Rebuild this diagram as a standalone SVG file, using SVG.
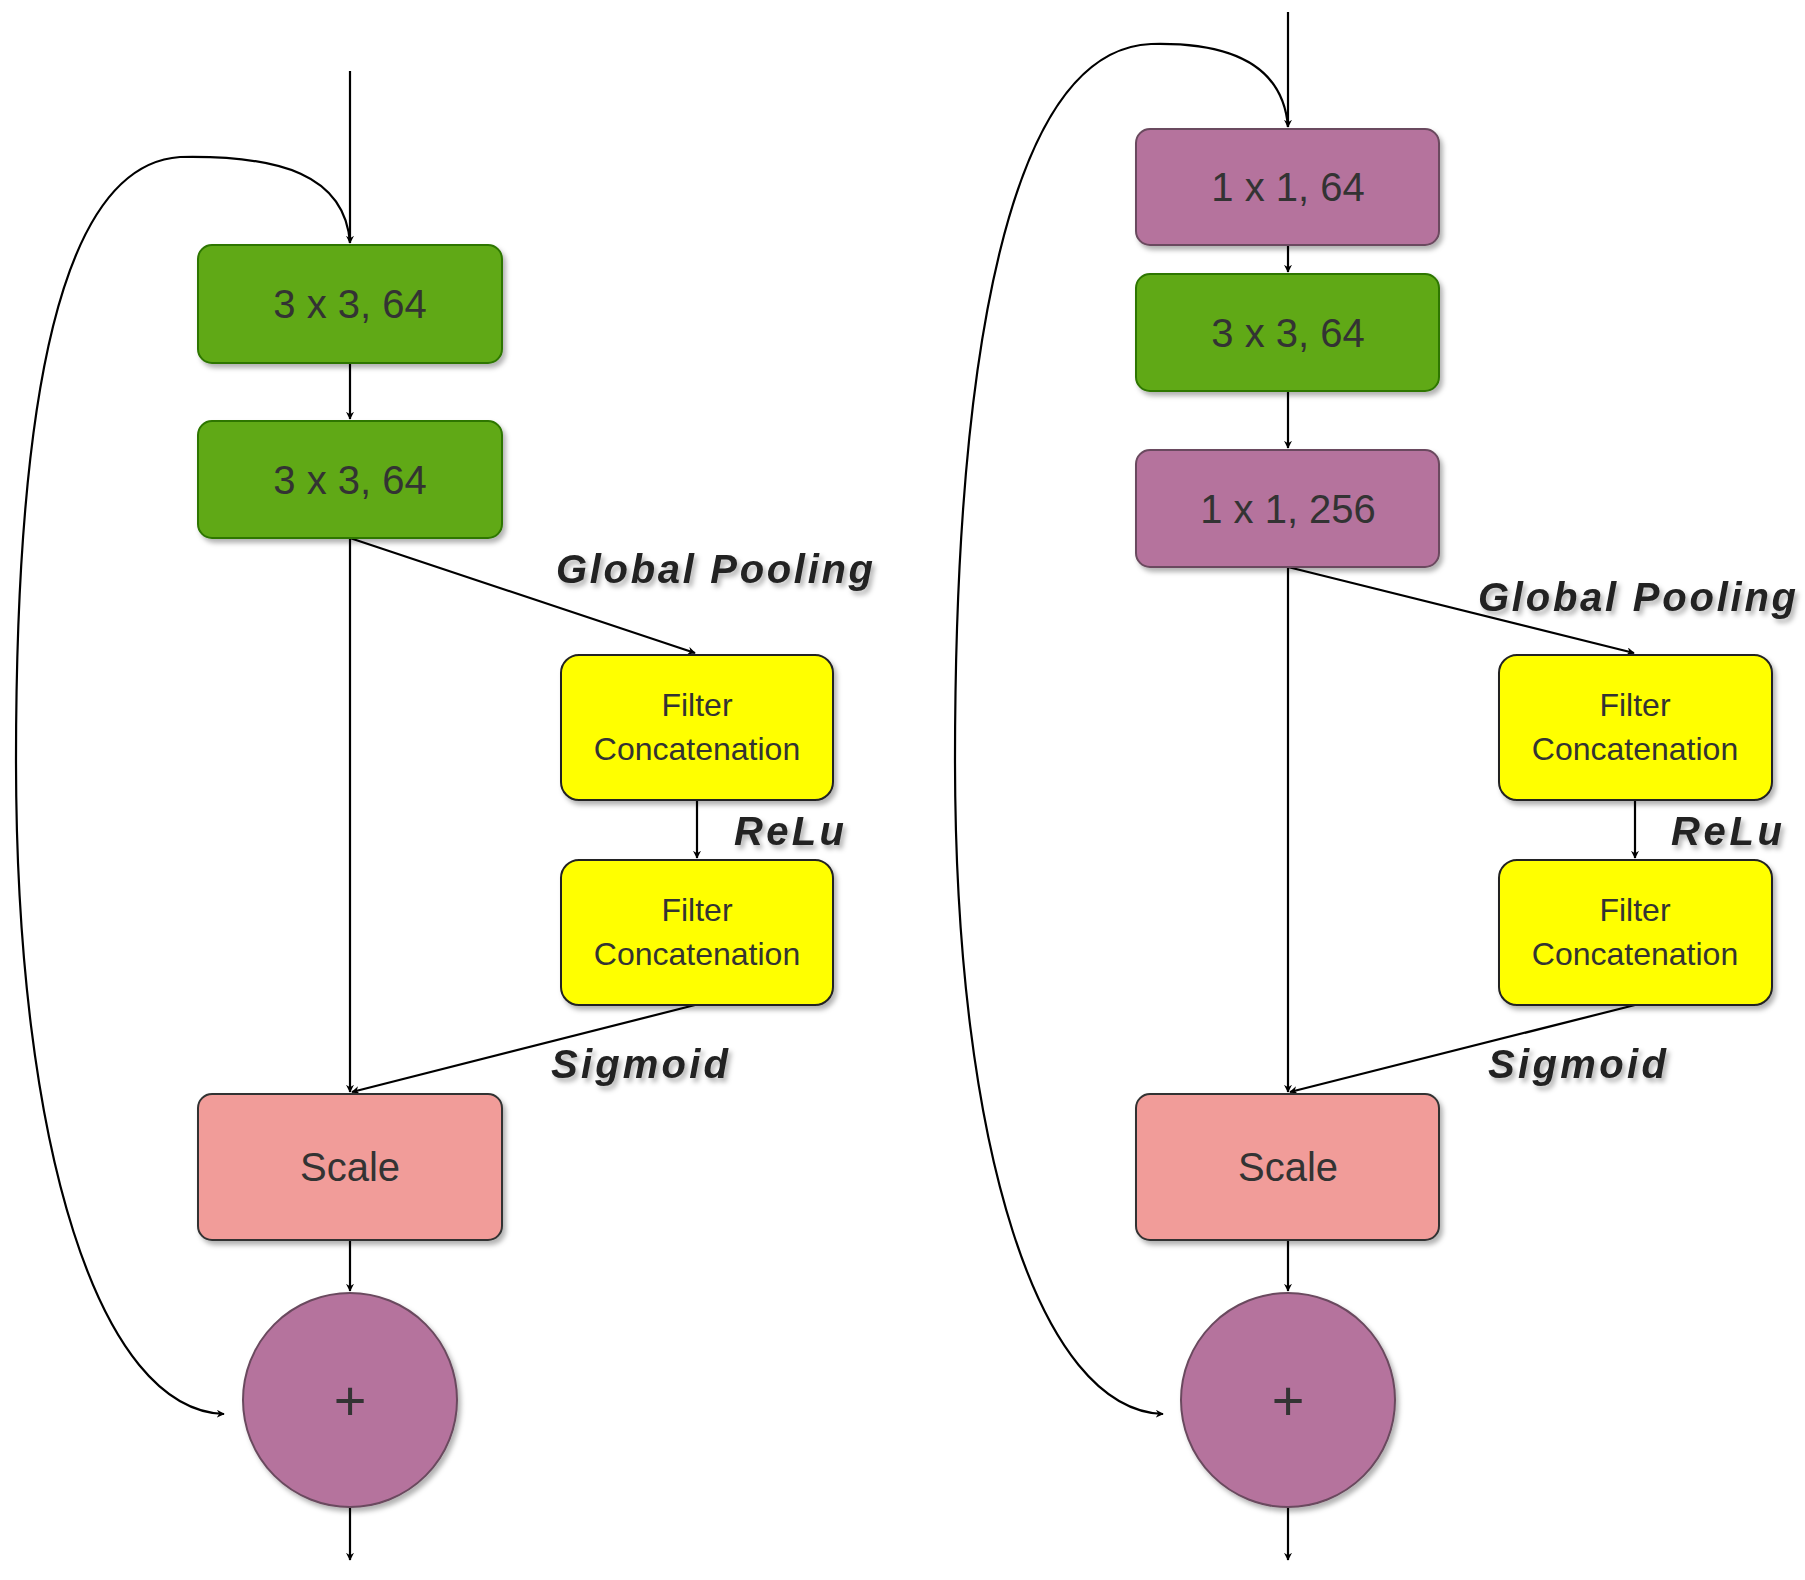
<svg xmlns="http://www.w3.org/2000/svg" width="1805" height="1580" viewBox="0 0 1805 1580">
<defs>
<marker id="ah" viewBox="0 0 10 10" refX="9" refY="5" markerWidth="8" markerHeight="8" markerUnits="userSpaceOnUse" orient="auto"><path d="M0,0 L10,5 L0,10 L3,5 z" fill="#000"/></marker>
<filter id="sh" x="-10%" y="-10%" width="130%" height="130%"><feDropShadow dx="3" dy="4" stdDeviation="2.5" flood-color="#000" flood-opacity="0.3"/></filter>
</defs>
<style>
.c{fill:none;stroke:#000;stroke-width:2.2;marker-end:url(#ah)}
.g{fill:#60a917;stroke:#2d7600;stroke-width:2;filter:url(#sh)}
.p{fill:#b5739d;stroke:#6a4a5e;stroke-width:2;filter:url(#sh)}
.y{fill:#ffff00;stroke:#222;stroke-width:2;filter:url(#sh)}
.s{fill:#f19c99;stroke:#333;stroke-width:2;filter:url(#sh)}
.t{font-family:"Liberation Sans",Arial,sans-serif;text-anchor:middle;fill:#333}
.b{font-size:40px}
.f{font-size:32px}
.l{font-family:"Liberation Sans",Arial,sans-serif;font-weight:bold;font-style:italic;font-size:40px;fill:#222;filter:url(#sh)}
</style>
<g id="connectors">
<path class="c" d="M350,71 L350,243"/>
<path class="c" d="M350,363 L350,419"/>
<path class="c" d="M350,538 L350,1092"/>
<path class="c" d="M350,538 L695,653"/>
<path class="c" d="M697,800 L697,858"/>
<path class="c" d="M695,1005 L352,1092"/>
<path class="c" d="M350,1240 L350,1291"/>
<path class="c" d="M350,1507 L350,1560"/>
<path class="c" d="M350,243 C345,175 280,155 180,157 C60,165 16,400 16,760 C16,1150 100,1410 224,1414"/>
<path class="c" d="M1288,12 L1288,127"/>
<path class="c" d="M1288,245 L1288,272"/>
<path class="c" d="M1288,391 L1288,448"/>
<path class="c" d="M1288,567 L1288,1092"/>
<path class="c" d="M1288,567 L1634,653"/>
<path class="c" d="M1635,800 L1635,858"/>
<path class="c" d="M1635,1005 L1290,1092"/>
<path class="c" d="M1288,1240 L1288,1291"/>
<path class="c" d="M1288,1507 L1288,1560"/>
<path class="c" d="M1288,127 C1283,65 1230,42 1151,44 C1010,50 955,350 955,760 C955,1150 1040,1410 1163,1414"/>
</g>
<g id="l1"><rect class="g" x="198" y="245" width="304" height="118" rx="14"/><text class="t b" x="350" y="318">3 x 3, 64</text></g>
<g id="l2"><rect class="g" x="198" y="421" width="304" height="117" rx="14"/><text class="t b" x="350" y="494">3 x 3, 64</text></g>
<g id="l3"><rect class="y" x="561" y="655" width="272" height="145" rx="18"/><text class="t f" x="697" y="716">Filter</text><text class="t f" x="697" y="760">Concatenation</text></g>
<g id="l4"><rect class="y" x="561" y="860" width="272" height="145" rx="18"/><text class="t f" x="697" y="921">Filter</text><text class="t f" x="697" y="965">Concatenation</text></g>
<g id="l5"><rect class="s" x="198" y="1094" width="304" height="146" rx="14"/><text class="t b" x="350" y="1181">Scale</text></g>
<g id="l6"><circle class="p" cx="350" cy="1400" r="107" stroke="#222"/><text class="t" x="350" y="1420" font-size="56" fill="#111">+</text></g>
<g id="r1"><rect class="p" x="1136" y="129" width="303" height="116" rx="14"/><text class="t b" x="1288" y="201">1 x 1, 64</text></g>
<g id="r2"><rect class="g" x="1136" y="274" width="303" height="117" rx="14"/><text class="t b" x="1288" y="347">3 x 3, 64</text></g>
<g id="r3"><rect class="p" x="1136" y="450" width="303" height="117" rx="14"/><text class="t b" x="1288" y="523">1 x 1, 256</text></g>
<g id="r4"><rect class="y" x="1499" y="655" width="273" height="145" rx="18"/><text class="t f" x="1635" y="716">Filter</text><text class="t f" x="1635" y="760">Concatenation</text></g>
<g id="r5"><rect class="y" x="1499" y="860" width="273" height="145" rx="18"/><text class="t f" x="1635" y="921">Filter</text><text class="t f" x="1635" y="965">Concatenation</text></g>
<g id="r6"><rect class="s" x="1136" y="1094" width="303" height="146" rx="14"/><text class="t b" x="1288" y="1181">Scale</text></g>
<g id="r7"><circle class="p" cx="1288" cy="1400" r="107" stroke="#222"/><text class="t" x="1288" y="1420" font-size="56" fill="#111">+</text></g>
<g id="labels">
<text class="l" x="556" y="583" textLength="317">Global Pooling</text>
<text class="l" x="734" y="845" textLength="110">ReLu</text>
<text class="l" x="551" y="1078" textLength="177">Sigmoid</text>
<text class="l" x="1478" y="611" textLength="318">Global Pooling</text>
<text class="l" x="1671" y="845" textLength="111">ReLu</text>
<text class="l" x="1488" y="1078" textLength="178">Sigmoid</text>
</g>
</svg>
